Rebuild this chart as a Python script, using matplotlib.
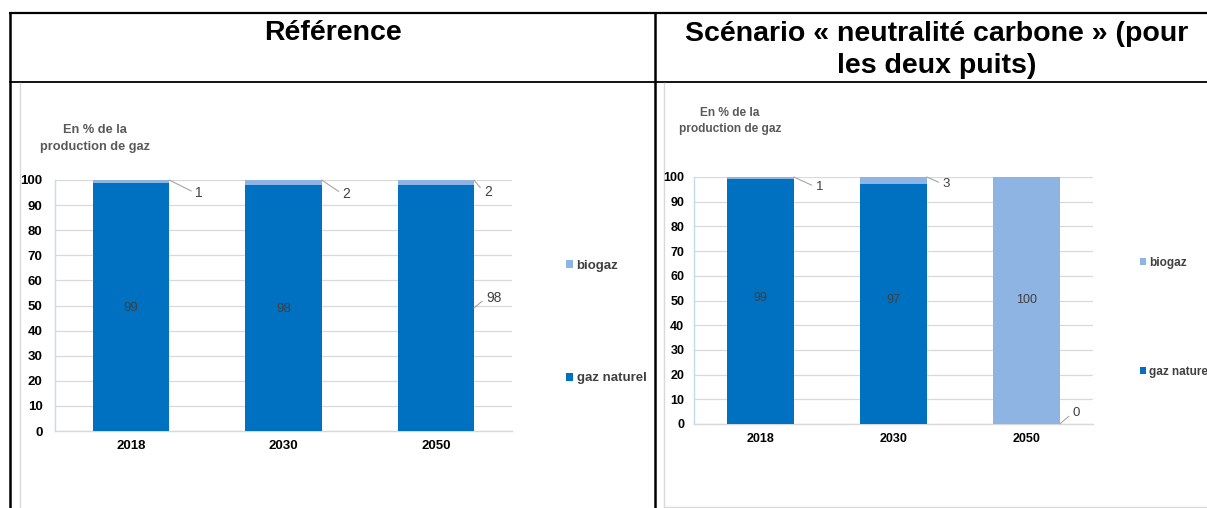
import matplotlib
matplotlib.use("Agg")
import matplotlib.pyplot as plt

plt.rcParams['font.family'] = ['Liberation Sans', 'DejaVu Sans']

# ---------------- data ----------------
years = ["2018", "2030", "2050"]
ref_gaz_naturel = [99, 98, 98]
ref_biogaz = [1, 2, 2]
nc_gaz_naturel = [99, 97, 0]
nc_biogaz = [1, 3, 100]
y_ticks = [0, 10, 20, 30, 40, 50, 60, 70, 80, 90, 100]
header_left = "Référence"
header_right_1 = "Scénario « neutralité carbone » (pour"
header_right_2 = "les deux puits)"
ylabel_text = "En % de la\nproduction de gaz"
legend_labels = ["biogaz", "gaz naturel"]

# ---------------- style ----------------
W, H = 1207, 508
DARK = "#0070C0"
LIGHT = "#8DB4E2"
GRID = "#D9D9D9"
LABEL_C = "#404040"
LEAD_C = "#A6A6A6"

fig = plt.figure(figsize=(W / 100, H / 100), dpi=100)
fig.patch.set_facecolor("white")


def fx(px):
    return px / W


def fy(py):
    return 1 - py / H


# overlay for the table frame
ov = fig.add_axes([0, 0, 1, 1])
ov.set_xlim(0, W)
ov.set_ylim(H, 0)
ov.axis("off")
ov.set_zorder(0)

ov.plot([9, W], [13, 13], color="black", lw=1.6, solid_capstyle="butt")
ov.plot([10, 10], [12, H], color="black", lw=1.8, solid_capstyle="butt")
ov.plot([9, W], [81.5, 81.5], color="black", lw=1.3, solid_capstyle="butt")
ov.plot([655, 655], [12, H], color="black", lw=1.8, solid_capstyle="butt")
ov.plot([19.5, 19.5], [82.5, H], color=GRID, lw=1.0)
ov.plot([663.5, 663.5], [82.5, 507], color=GRID, lw=1.0)
ov.plot([663.5, W], [507, 507], color=GRID, lw=1.0)

ov.text(333, 40, header_left, ha="center", va="baseline", fontsize=20.5,
        fontweight="bold", color="black")
ov.text(937, 41, header_right_1, ha="center", va="baseline", fontsize=20.5,
        fontweight="bold", color="black")
ov.text(937, 73, header_right_2, ha="center", va="baseline", fontsize=20.5,
        fontweight="bold", color="black")


def draw_chart(rect, natural, bio, tick_fs, lab_fs, ypad, xpad,
               inside, outside, ylab_xy, ylab_fs, ylab_ls,
               leg_xy, leg_fs, leg_sp):
    l, t, r, b = rect
    ax = fig.add_axes([fx(l), fy(b), fx(r - l), (b - t) / H])
    ax.set_zorder(2)
    x = list(range(len(years)))
    bn = ax.bar(x, natural, width=0.5, color=DARK, zorder=3)
    bb = ax.bar(x, bio, width=0.5, bottom=natural, color=LIGHT, zorder=3)
    ax.set_xlim(-0.5, len(years) - 0.5)
    ax.set_ylim(0, 100)
    ax.set_yticks(y_ticks)
    ax.set_xticks(x)
    ax.set_xticklabels(years)
    ax.tick_params(axis="both", length=0)
    ax.tick_params(axis="y", pad=ypad, labelsize=tick_fs)
    ax.tick_params(axis="x", pad=xpad, labelsize=tick_fs)
    for lab in ax.get_xticklabels() + ax.get_yticklabels():
        lab.set_fontweight("bold")
        lab.set_color("black")
    ax.grid(axis="y", color=GRID, lw=0.9, zorder=0)
    ax.set_axisbelow(True)
    for s in ("top", "right"):
        ax.spines[s].set_visible(False)
    ax.spines["left"].set_color("#C5D9F1")
    ax.spines["bottom"].set_color(GRID)
    ax.spines["left"].set_linewidth(1.0)
    ax.spines["bottom"].set_linewidth(1.0)

    # inside labels
    for series, i, dy in inside:
        vals = natural if series == "n" else bio
        base = 0 if series == "n" else natural[i]
        ax.annotate(str(vals[i]), xy=(i, base + vals[i] / 2), xytext=(0, dy),
                    textcoords="offset pixels", ha="center", va="center",
                    fontsize=lab_fs, color=LABEL_C, zorder=5)
    # outside labels with leader lines
    for series, i, ref, dx, dy in outside:
        vals = natural if series == "n" else bio
        base = 0 if series == "n" else natural[i]
        yref = base + vals[i] if ref == "top" else base + vals[i] / 2
        ax.annotate(str(vals[i]), xy=(i + 0.25, yref), xytext=(dx, dy),
                    textcoords="offset pixels", ha="left", va="center",
                    fontsize=lab_fs + 0.5, color=LABEL_C, zorder=5,
                    annotation_clip=False,
                    arrowprops=dict(arrowstyle="-", color=LEAD_C, lw=0.8,
                                    shrinkA=1, shrinkB=0,
                                    relpos=(0, 0.5)))

    fig.text(fx(ylab_xy[0]), fy(ylab_xy[1]), ylabel_text, ha="center",
             va="center", fontsize=ylab_fs, fontweight="bold",
             color="#595959", linespacing=ylab_ls)

    fig.legend([bb, bn], legend_labels, loc="upper left",
               bbox_to_anchor=(fx(leg_xy[0]), fy(leg_xy[1])),
               bbox_transform=fig.transFigure, frameon=False,
               prop={"weight": "bold", "size": leg_fs},
               labelspacing=leg_sp, handlelength=0.55,
               handleheight=0.55, handletextpad=0.25,
               borderpad=0, borderaxespad=0, labelcolor=LABEL_C)
    return ax


# left chart : Référence
draw_chart(rect=(55, 180, 512, 431), natural=ref_gaz_naturel, bio=ref_biogaz,
           tick_fs=9.5, lab_fs=9.5, ypad=9, xpad=6.5,
           inside=[("n", 0, -1), ("n", 1, -1)],
           outside=[("b", 0, "top", 26, -13), ("b", 1, "top", 21, -14),
                    ("b", 2, "top", 10, -12), ("n", 2, "mid", 12, 10)],
           ylab_xy=(95, 138.5), ylab_fs=9.2, ylab_ls=1.45,
           leg_xy=(566, 260), leg_fs=9.5, leg_sp=7.6)

# right chart : neutralité carbone
draw_chart(rect=(694, 177, 1093, 424), natural=nc_gaz_naturel, bio=nc_biogaz,
           tick_fs=9, lab_fs=9, ypad=7, xpad=6.5,
           inside=[("n", 0, 4), ("n", 1, 4), ("b", 2, 0)],
           outside=[("b", 0, "top", 22, -10), ("b", 1, "top", 16, -7),
                    ("n", 2, "top", 13, 11)],
           ylab_xy=(730, 121), ylab_fs=8.6, ylab_ls=1.55,
           leg_xy=(1140, 257), leg_fs=8.5, leg_sp=8.2)

fig.savefig("out.png", dpi=100, facecolor="white")
